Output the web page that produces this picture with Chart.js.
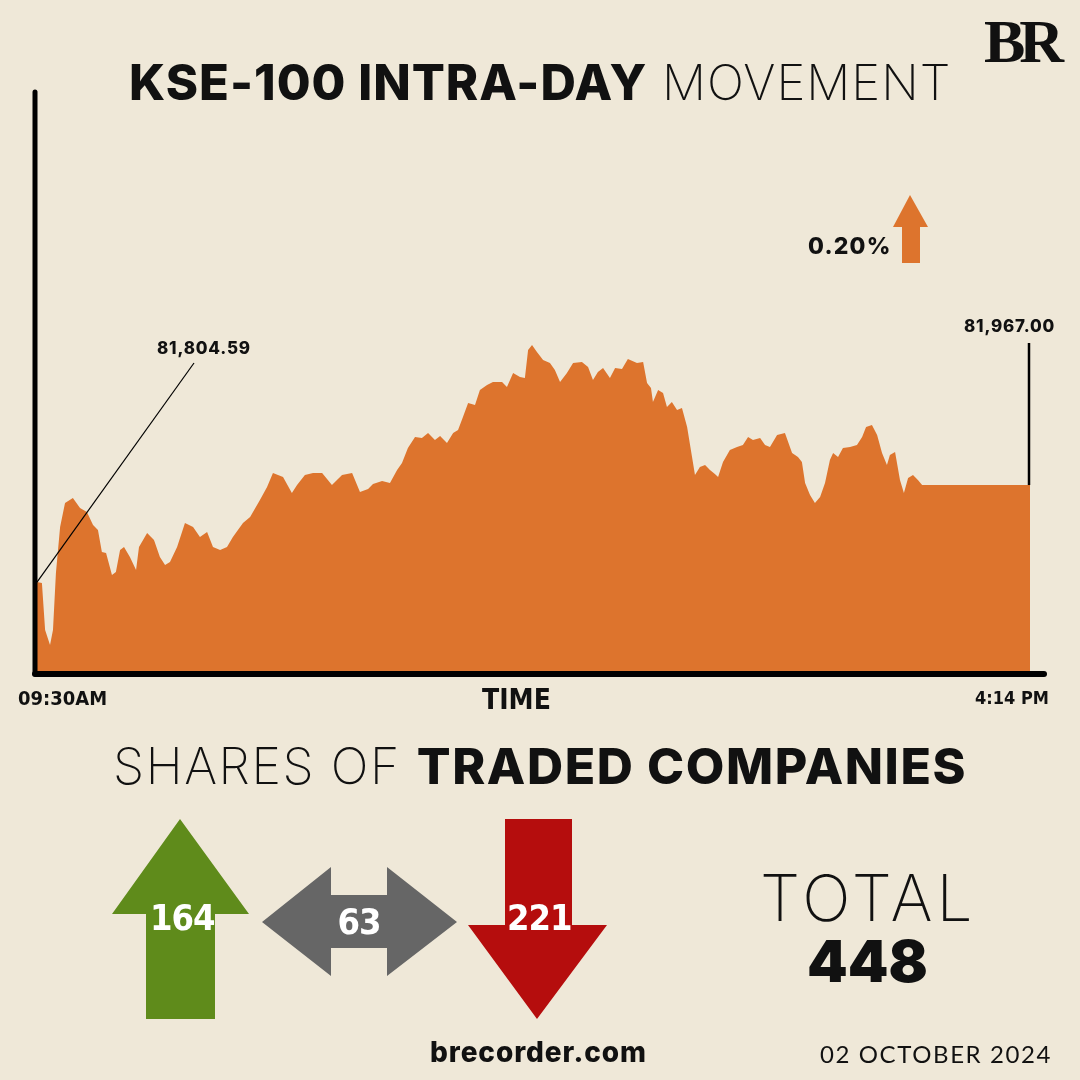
<!DOCTYPE html>
<html>
<head>
<meta charset="utf-8">
<script src="https://cdn.jsdelivr.net/npm/chart.js@4.4.1/dist/chart.umd.min.js"></script>
<style>
  html, body { margin: 0; padding: 0; }
  body { width: 1080px; height: 1080px; background: #efe8d8; position: relative; overflow: hidden; font-family: 'Inter', 'Lato', sans-serif; color: #111; }
  #chartWrap { position: absolute; left: 0; top: 0; width: 1080px; height: 1080px; }
  .t { position: absolute; white-space: nowrap; line-height: 1; }
  .bold { font-weight: 800; }
  .thin { font-weight: 200; }
  .cond { font-family: 'Liberation Sans Narrow', 'DejaVu Sans Condensed', 'DejaVu Sans', sans-serif; font-weight: 700; }
  svg { position: absolute; left: 0; top: 0; }
</style>
</head>
<body>
<div id="chartWrap"><canvas id="myChart" width="1080" height="1080"></canvas></div>

<div class="t" id="title" style="left:129px; top:58px; font-size:49px; letter-spacing:1px;">
  <span class="bold">KSE-100 INTRA-DAY</span> <span class="thin">MOVEMENT</span>
</div>
<div class="t" style="left:984px; top:10px; font-family:'Liberation Serif','DejaVu Serif',serif; font-weight:700; font-size:62px; letter-spacing:-6px;">BR</div>

<div class="t bold" style="left:808px; top:235px; font-size:23px; letter-spacing:1.2px;">0.20%</div>
<div class="t bold" id="lblOpen" style="left:157px; top:340px; font-size:17px; letter-spacing:0.8px;">81,804.59</div>
<div class="t bold" id="lblClose" style="left:964px; top:318px; font-size:17px; letter-spacing:0.8px;">81,967.00</div>

<div class="t cond" style="left:18px; top:688px; font-size:20px;">09:30AM</div>
<div class="t cond" style="left:482px; top:686px; font-size:28px;">TIME</div>
<div class="t cond" style="left:975px; top:689px; font-size:18px;">4:14 PM</div>

<div class="t" style="left:113px; top:741px; font-size:50px; letter-spacing:1.6px;">
  <span class="thin">SHARES OF</span> <span class="bold">TRADED COMPANIES</span>
</div>

<svg width="1080" height="1080">
  <!-- orange up arrow -->
  <polygon points="910,195 928,227 920,227 920,263 902,263 902,227 893,227" fill="#dd742d"/>
  <!-- green up arrow -->
  <polygon points="180,819 249,914 215,914 215,1019 146,1019 146,914 112,914" fill="#5f8b1b"/>
  <!-- grey double arrow -->
  <polygon points="262,922 331,867 331,895 387,895 387,867 457,922 387,976 387,948 331,948 331,976" fill="#666666"/>
  <!-- red down arrow -->
  <polygon points="505,819 572,819 572,925 607,925 537,1019 468,925 505,925" fill="#b50d0d"/>
</svg>

<div class="t cond" style="left:150px; top:900px; width:60px; text-align:center; color:#fff; font-size:36px; letter-spacing:-1px;">164</div>
<div class="t cond" style="left:329px; top:904px; width:60px; text-align:center; color:#fff; font-size:36px; letter-spacing:-1px;">63</div>
<div class="t cond" style="left:507px; top:900px; width:60px; text-align:center; color:#fff; font-size:36px; letter-spacing:-1px;">221</div>

<div class="t thin" style="left:760px; top:866px; font-size:64px; letter-spacing:4px;">TOTAL</div>
<div class="t" style="left:807px; top:932px; font-size:58px; font-weight:900;">448</div>
<div class="t bold" style="left:430px; top:1038px; font-size:28px; letter-spacing:0.9px;">brecorder.com</div>
<div class="t" style="left:820px; top:1042px; font-size:24px; letter-spacing:1.6px; font-family:'Lato',sans-serif;">02 OCTOBER 2024</div>

<script>
// Minutes after 09:30 (09:30 -> 16:14)
const minutes = [
  0, 2.0, 3.3, 5.3, 6.5, 7.7, 9.4, 11.4, 14.6, 17.5, 20.3, 22.8, 24.8, 26.4, 28.1, 30.5, 32.1, 33.8, 35.4, 37.8,
  40.3, 41.5, 44.8, 47.6, 50.0, 52.1, 54.1, 57.0, 60.2, 63.5, 66.3, 69.2, 71.6, 74.5, 77.3, 79.7, 83.8, 86.7, 90.7, 93.6,
  96.0, 100.1, 103.7, 105.8, 109.0, 112.3, 116.0, 120.0, 124.1, 128.2, 131.4, 134.7, 136.7, 140.4, 143.6, 146.5, 148.5, 150.9, 153.8, 156.6,
  159.1, 161.9, 164.0, 166.8, 169.3, 171.3, 173.3, 175.4, 178.2, 180.2, 183.1, 185.5, 189.2, 191.2, 193.7, 196.5, 198.5, 199.8, 201.4, 203.4,
  205.9, 208.7, 210.7, 212.8, 215.6, 218.1, 221.7, 224.2, 226.2, 228.2, 230.3, 233.1, 235.2, 238.0, 240.4, 244.1, 246.6, 248.2, 249.8, 250.6,
  252.7, 254.7, 256.3, 258.3, 260.4, 262.4, 264.5, 266.5, 267.7, 269.7, 271.8, 273.8, 275.8, 277.1, 279.1, 281.9, 284.8, 287.2, 289.3, 291.3,
  294.2, 296.2, 298.2, 301.1, 304.3, 307.2, 309.6, 311.2, 312.5, 314.5, 316.5, 318.6, 320.6, 322.6, 323.9, 325.9, 327.9, 330.8, 333.6, 335.7,
  337.3, 339.7, 341.8, 343.8, 345.8, 347.0, 349.1, 351.1, 352.7, 354.4, 356.4, 358.4, 360.1, 404
];

// KSE-100 index level
const kse100 = [
  81804.59, 81802.9, 81724.2, 81699.1, 81724.2, 81819.7, 81896.7, 81936.8, 81945.2, 81928.5, 81921.8, 81900.0, 81891.6, 81854.8, 81853.1, 81816.3, 81821.3, 81858.2, 81863.2, 81846.5,
  81824.7, 81863.2, 81886.6, 81874.9, 81846.5, 81833.0, 81838.1, 81863.2, 81903.4, 81896.7, 81880.0, 81888.3, 81863.2, 81858.2, 81863.2, 81880.0, 81903.4, 81913.4, 81941.9, 81963.6,
  81987.1, 81980.4, 81953.6, 81967.0, 81983.7, 81987.1, 81987.1, 81967.0, 81983.7, 81987.1, 81955.3, 81960.3, 81968.7, 81973.7, 81970.3, 81992.1, 82003.8, 82028.9, 82047.3, 82045.7,
  82054.0, 82042.3, 82049.0, 82037.3, 82054.0, 82059.0, 82080.8, 82104.2, 82100.9, 82126.0, 82134.4, 82139.4, 82139.4, 82131.0, 82154.5, 82147.8, 82146.1, 82192.9, 82201.3, 82189.6,
  82176.2, 82171.2, 82159.5, 82139.4, 82154.5, 82171.2, 82172.9, 82164.5, 82142.8, 82156.1, 82162.8, 82146.1, 82162.8, 82161.2, 82177.9, 82171.2, 82172.9, 82137.7, 82129.4, 82105.9,
  82126.0, 82121.0, 82097.5, 82105.9, 82092.5, 82095.9, 82064.1, 82013.9, 81983.7, 81997.1, 82000.5, 81992.1, 81985.4, 81980.4, 82005.5, 82025.6, 82030.6, 82033.9, 82047.3, 82042.3,
  82045.7, 82033.9, 82030.6, 82050.7, 82054.0, 82020.5, 82013.9, 82005.5, 81970.3, 81950.2, 81936.8, 81946.9, 81970.3, 82008.8, 82020.5, 82013.9, 82028.9, 82030.6, 82033.9, 82047.3,
  82064.1, 82067.4, 82050.7, 82020.5, 82000.5, 82017.2, 82022.2, 81975.4, 81953.6, 81978.7, 81983.7, 81975.4, 81967.0, 81967.00
];

const yMin = 81654;
const yMax = 82625;

// Axis lines, leader lines to open / close labels
const decorPlugin = {
    id: 'decor',
    afterDatasetsDraw(chart) {
        const ctx = chart.ctx;
        const xs = chart.scales.x;
        const ys = chart.scales.y;
        const a = chart.chartArea;
        const last = minutes.length - 1;

        ctx.save();
        ctx.lineCap = 'round';
        ctx.strokeStyle = '#000';

        // y axis
        ctx.lineWidth = 5;
        ctx.beginPath();
        ctx.moveTo(a.left - 2, a.top);
        ctx.lineTo(a.left - 2, a.bottom + 2);
        ctx.stroke();
        // x axis
        ctx.lineWidth = 6;
        ctx.beginPath();
        ctx.moveTo(a.left - 2, a.bottom + 2);
        ctx.lineTo(a.right + 14, a.bottom + 2);
        ctx.stroke();

        // open leader
        ctx.lineCap = 'butt';
        ctx.lineWidth = 1.2;
        ctx.beginPath();
        ctx.moveTo(xs.getPixelForValue(minutes[0]), ys.getPixelForValue(kse100[0]));
        ctx.lineTo(194, 363);
        ctx.stroke();

        // close marker
        ctx.lineWidth = 2.5;
        const cx = xs.getPixelForValue(minutes[last]) - 1;
        ctx.beginPath();
        ctx.moveTo(cx, ys.getPixelForValue(kse100[last]));
        ctx.lineTo(cx, 343);
        ctx.stroke();
        ctx.restore();
    }
};

new Chart(document.getElementById('myChart').getContext('2d'), {
    type: 'line',
    data: {
        datasets: [{
            label: 'KSE-100',
            data: minutes.map((m, i) => ({ x: m, y: kse100[i] })),
            borderWidth: 0,
            borderColor: '#dd742d',
            backgroundColor: '#dd742d',
            fill: 'start',
            pointRadius: 0,
            tension: 0
        }]
    },
    options: {
        responsive: false,
        animation: false,
        layout: { padding: { left: 37, right: 50, top: 92, bottom: 408 } },
        plugins: { legend: { display: false }, tooltip: { enabled: false } },
        scales: {
            x: { type: 'linear', min: 0, max: 404, display: false },
            y: { min: yMin, max: yMax, display: false }
        }
    },
    plugins: [decorPlugin]
});
</script>
</body>
</html>
